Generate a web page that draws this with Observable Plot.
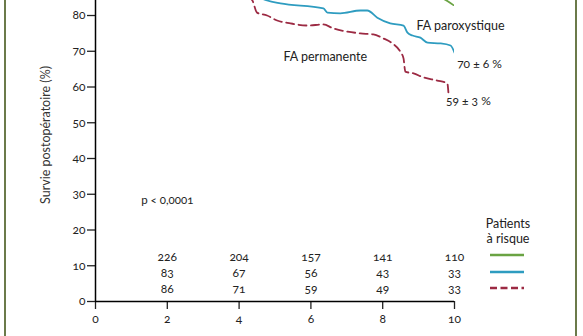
<!DOCTYPE html>
<html><head><meta charset="utf-8">
<script src="https://cdn.jsdelivr.net/npm/d3@7"></script>
<script src="https://cdn.jsdelivr.net/npm/@observablehq/plot@0.6"></script>
<style>
html,body{margin:0;padding:0;background:#fff;overflow:hidden;}
#wrap{position:relative;width:583px;height:336px;overflow:hidden;font-family:Lato,"Open Sans",sans-serif;}
.border{position:absolute;top:0;height:336px;width:2px;background:#6b7a4a;}
#legend{position:absolute;left:478px;top:216px;width:60px;text-align:center;font-size:12.5px;line-height:15px;color:#222;}
svg text{font-feature-settings:"onum" 1;}
</style>
</head><body>
<div id="wrap"></div>
<script>
// Survival curves (years, % survival)
const tAll = [0, 2, 4, 9.6, 9.97];
const vAll = [100, 95, 91, 85, 82.9];
const tParox = [0, 2, 4, 4.78, 5.15, 6.35, 6.46, 6.82, 7.38, 7.57, 7.85, 8.21, 8.58, 8.69, 8.83, 9.05, 9.25, 9.61, 9.89, 10.0];
const vParox = [100, 93, 88, 84.2, 83.4, 82.0, 80.8, 80.6, 81.4, 81.4, 79.4, 77.8, 77.2, 75.2, 74.4, 73.8, 72.4, 72.2, 71.6, 69.6];
const tPerm = [0, 2, 4, 4.37, 4.50, 4.78, 5.06, 5.43, 5.90, 6.35, 6.62, 7.02, 7.38, 7.74, 8.02, 8.27, 8.49, 8.58, 8.63, 8.86, 9.13, 9.52, 9.80, 9.83];
const vPerm = [100, 92, 87, 84.2, 80.8, 80.0, 78.6, 77.8, 77.2, 77.5, 76.4, 75.5, 75.0, 74.7, 73.6, 72.2, 69.9, 68.0, 64.3, 63.8, 62.7, 61.8, 61.0, 58.5];

// Patients at risk
const riskYears = [2, 4, 6, 8, 10];
const riskAll = [226, 204, 157, 141, 110];
const riskParox = [83, 67, 56, 43, 33];
const riskPerm = [86, 71, 59, 49, 33];

const xTicks = [0, 2, 4, 6, 8, 10];
const yTicks = [0, 10, 20, 30, 40, 50, 60, 70, 80];

const cGreen = "#6aa343", cBlue = "#2e9cc0", cRed = "#9c2a43";
const font = "Lato, 'Open Sans', sans-serif";

const toRows = (ts, vs) => ts.map((t, i) => ({t, v: vs[i]}));
const all = toRows(tAll, vAll), parox = toRows(tParox, vParox), perm = toRows(tPerm, vPerm);
const parEnd = parox[parox.length - 1], permEnd = perm[perm.length - 1];
const riskRow = row => row.map((n, i) => ({t: riskYears[i], n}));

const plot = Plot.plot({
  width: 583, height: 336,
  marginLeft: 95, marginRight: 129, marginTop: 0, marginBottom: 35,
  style: {fontFamily: font, fontSize: "11px", color: "#222", background: "transparent", overflow: "hidden"},
  x: {domain: [0, 10]},
  y: {domain: [0, 84.2]},
  marks: [
    Plot.axisX({ticks: xTicks, tickSize: 8, tickPadding: 5, label: null, fontSize: 12, strokeWidth: 1.3, tickFormat: d => String(d)}),
    Plot.axisY({ticks: yTicks, tickSize: 8, tickPadding: 2, label: null, fontSize: 12, strokeWidth: 1.3, tickFormat: d => String(d)}),
    Plot.ruleY([0], {x1: 0, x2: 10, stroke: "#000", strokeWidth: 1.5}),
    Plot.ruleX([0], {stroke: "#000", strokeWidth: 1.5}),
    Plot.line(all, {x: "t", y: "v", stroke: cGreen, strokeWidth: 1.8, curve: "monotone-x", clip: true}),
    Plot.line(parox, {x: "t", y: "v", stroke: cBlue, strokeWidth: 1.8, curve: "monotone-x", clip: true}),
    Plot.line(perm, {x: "t", y: "v", stroke: cRed, strokeWidth: 1.8, strokeDasharray: "8,4.5", curve: "monotone-x", clip: true}),
    Plot.text([parEnd], {x: "t", y: "v", text: () => "70 ± 6 %", dx: 25, dy: 11, fontSize: 12, fill: "#222"}),
    Plot.text([permEnd], {x: "t", y: "v", text: () => "59 ± 3 %", dx: 20, dy: 9, fontSize: 12, fill: "#222"}),
    Plot.text([parEnd], {x: "t", y: "v", text: () => "FA paroxystique", dx: 6, dy: -27, fontSize: 12.5, fill: "#222"}),
    Plot.text(["FA permanente"], {x: 6.4, y: 68.3, text: d => d, fontSize: 12.5, fill: "#222"}),
    Plot.text(["p < 0,0001"], {x: 2.0, y: 28.3, text: d => d, fontSize: 11.5, fill: "#222"}),
    Plot.text(riskRow(riskAll), {x: "t", y: 0, text: d => String(d.n), dy: -44, fontSize: 12, fill: "#222"}),
    Plot.text(riskRow(riskParox), {x: "t", y: 0, text: d => String(d.n), dy: -28, fontSize: 12, fill: "#222"}),
    Plot.text(riskRow(riskPerm), {x: "t", y: 0, text: d => String(d.n), dy: -12, fontSize: 12, fill: "#222"}),
    Plot.text(["Survie postopératoire (%)"], {frameAnchor: "left", textAnchor: "middle", rotate: -90, dx: -50, dy: -16, text: d => d, fontSize: 12.5, fill: "#333"})
  ]
});
const wrap = document.getElementById("wrap");
wrap.appendChild(plot);
plot.style.position = "absolute"; plot.style.left = "0"; plot.style.top = "0";

const bl = document.createElement("div"); bl.className = "border"; bl.style.left = "4px"; wrap.appendChild(bl);
const br = document.createElement("div"); br.className = "border"; br.style.left = "575px"; wrap.appendChild(br);

const legend = document.createElement("div");
legend.id = "legend";
legend.innerHTML = `<div>Patients</div><div>à risque</div>
<svg width="60" height="45" style="display:block">
<line x1="12" x2="46" y1="9" y2="9" stroke="${cGreen}" stroke-width="2.5"/>
<line x1="12" x2="46" y1="26" y2="26" stroke="${cBlue}" stroke-width="2.5"/>
<line x1="12" x2="46" y1="42" y2="42" stroke="${cRed}" stroke-width="2.5" stroke-dasharray="7,3.5"/>
</svg>`;
wrap.appendChild(legend);
</script>
</body></html>
